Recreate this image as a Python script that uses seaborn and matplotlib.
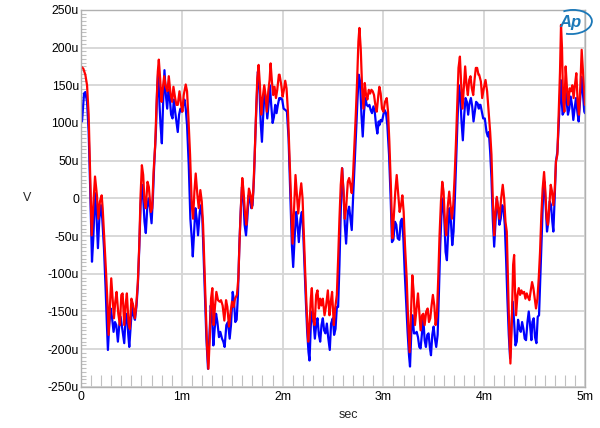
import numpy as np
import pandas as pd
import seaborn as sns
import matplotlib.pyplot as plt
from matplotlib.patches import Arc

# time in ms, level in uV
red_t = [0, .023, .043, .06, .076, .089, .106, .122, .139, .158, .172, .188, .205, .215, .231, .248, .264, .274,
         .287, .300, .314, .327, .34, .353, .37, .386, .40, .413, .429, .442, .455, .472, .485, .50, .518, .535,
         .548, .564, .578, .591, .604, .617, .63, .643, .66, .673, .693, .706, .72, .736, .749, .762, .772, .785,
         .799, .812, .825, .842, .858, .871, .888, .904, .917, .934, .947,
         .96, .977, .993, 1.006, 1.019, 1.039, 1.052, 1.066, 1.082, 1.099, 1.112, 1.125, 1.138, 1.155, 1.168,
         1.184, 1.198, 1.211, 1.224, 1.237, 1.25, 1.264, 1.277, 1.29, 1.303, 1.316, 1.33, 1.343, 1.359, 1.376,
         1.389, 1.405, 1.422, 1.439, 1.452, 1.468, 1.485, 1.498, 1.514, 1.528, 1.547, 1.561, 1.574, 1.587, 1.6,
         1.613, 1.627, 1.64, 1.653, 1.666, 1.683, 1.696, 1.709, 1.722, 1.736, 1.749, 1.762, 1.775, 1.788, 1.802,
         1.818, 1.831, 1.844, 1.858, 1.871, 1.881, 1.894, 1.907, 1.92, 1.934, 1.947, 1.963,
         1.97, 1.987, 2.0, 2.013, 2.026, 2.039, 2.053, 2.069, 2.086, 2.099, 2.112, 2.128, 2.142, 2.155, 2.171,
         2.185, 2.198, 2.211, 2.224, 2.237, 2.254, 2.267, 2.28, 2.29, 2.303, 2.317, 2.333, 2.346, 2.36, 2.373,
         2.386, 2.399, 2.416, 2.432, 2.449, 2.465, 2.478, 2.491, 2.508, 2.521, 2.538, 2.551, 2.564, 2.577, 2.59,
         2.604, 2.617, 2.63, 2.647, 2.66, 2.673, 2.686, 2.699, 2.713, 2.726, 2.739, 2.752, 2.762, 2.775, 2.789,
         2.802, 2.815, 2.828, 2.841, 2.855, 2.868, 2.881, 2.894, 2.907, 2.92, 2.934, 2.95,
         2.96, 2.973, 2.986, 3.0, 3.016, 3.033, 3.046, 3.059, 3.076, 3.089, 3.102, 3.118, 3.132, 3.145, 3.161,
         3.175, 3.188, 3.201, 3.214, 3.231, 3.247, 3.26, 3.274, 3.287, 3.3, 3.313, 3.326, 3.343, 3.356, 3.369,
         3.383, 3.396, 3.409, 3.425, 3.439, 3.452, 3.465, 3.478, 3.491, 3.505, 3.518, 3.531, 3.544, 3.557, 3.571,
         3.584, 3.597, 3.61, 3.623, 3.637, 3.653, 3.666, 3.679, 3.693, 3.706, 3.719, 3.732, 3.745, 3.759, 3.772,
         3.785, 3.798, 3.811, 3.825, 3.838, 3.851, 3.864, 3.877, 3.891, 3.904, 3.917, 3.93, 3.943,
         3.95, 3.967, 3.98, 3.996, 4.013, 4.029, 4.046, 4.059, 4.072, 4.085, 4.099, 4.112, 4.125, 4.138, 4.151,
         4.168, 4.184, 4.198, 4.211, 4.224, 4.234, 4.247, 4.26, 4.273, 4.287, 4.297, 4.306, 4.316, 4.33, 4.343,
         4.356, 4.369, 4.382, 4.396, 4.409, 4.422, 4.435, 4.448, 4.462, 4.475, 4.488, 4.501, 4.514, 4.528, 4.541,
         4.554, 4.567, 4.58, 4.594, 4.607, 4.62, 4.633, 4.646, 4.66, 4.673, 4.686, 4.699, 4.712, 4.726, 4.739,
         4.752, 4.762, 4.772, 4.782, 4.795, 4.808, 4.821, 4.834, 4.848, 4.861, 4.874, 4.887, 4.9, 4.914, 4.927,
         4.94, 4.953, 4.967, 4.98, 4.993, 5.0]
red_v = [175, 172, 164, 150, 111, 44, -49, -9, 29, 4, -27, -4, 4, -13, -53, -97, -142, -181,
         -142, -106, -133, -159, -137, -124, -153, -168, -128, -126, -168, -142, -126, -166, -173, -133, -142, -159,
         -142, -111, -62, 4, 44, 31, -4, -13, 22, 15, -18, -13, 35, 71, 124, 168, 184, 159,
         128, 146, 162, 148, 142, 162, 139, 128, 148, 133, 124,
         124, 142, 124, 115, 137, 151, 142, 106, 58, -9, -27, 9, 33, 4, -13,
         11, -4, -35, -88, -142, -195, -226, -186, -133, -119, -168, -142, -124, -135, -137,
         -135, -142, -162, -135, -144, -170, -150, -137, -144, -133, -128, -106, -53, -9, 27,
         9, -20, -35, -9, 13, 4, -13, 9, 53, 111, 159, 177, 150, 111, 133,
         150, 137, 115, 142, 157, 179, 155, 137, 148, 133, 144, 164,
         164, 150, 135, 144, 156, 146, 115, 53, -9, -60, -18, 31, 4, -20, 4,
         20, 0, -49, -97, -142, -190, -168, -133, -119, -159, -168, -128, -122, -146, -133,
         -142, -133, -155, -142, -122, -155, -137, -124, -168, -146, -128, -80, -27, 18, 40,
         9, -27, -13, 22, 27, 18, 7, 31, 71, 111, 155, 208, 226, 199, 146,
         119, 153, 137, 131, 144, 139, 144, 142, 137, 124, 115, 137,
         148, 139, 119, 115, 128, 133, 115, 75, 9, -53, -27, 9, 31, 9, -18,
         -9, 4, -18, -62, -106, -168, -204, -150, -102, -124, -168, -150, -126, -150, -175,
         -155, -153, -168, -150, -146, -164, -159, -142, -128, -142, -168, -155, -106, -49, -4,
         22, 9, -31, -49, -13, 9, -9, -27, -9, 27, 71, 124, 173, 188, 150,
         119, 146, 175, 150, 137, 157, 162, 146, 137, 157, 173, 173, 164,
         164, 155, 133, 146, 157, 142, 111, 88, 58, 0, -49, -18, 2, -13, -27,
         0, 18, 0, -31, -44, -97, -168, -219, -168, -88, -75, -124, -155, -128, -119,
         -128, -122, -126, -124, -133, -126, -131, -135, -122, -111, -119, -133, -146, -133, -106,
         -71, -22, 13, 35, 9, -27, -35, -9, 18, 9, -9, 9, 49, 58, 111,
         168, 230, 199, 133, 115, 175, 146, 124, 146, 142, 150, 133, 150, 166, 128,
         111, 146, 197, 168, 137, 124]

blue_t = [0, .01, .03, .043, .06, .076, .092, .109, .122, .139, .152, .168, .182, .198, .211, .228, .244, .257,
          .267, .28, .294, .307, .323, .337, .35, .366, .38, .393, .413, .429, .442, .455, .469, .479, .495, .508,
          .521, .535, .551, .564, .578, .591, .604, .617, .63, .643, .657, .67, .683, .7, .713, .726, .743, .756,
          .766, .779, .789, .802, .815, .828, .842, .855, .868, .881, .894, .908, .921, .934, .947,
          .96, .973, .986, 1.0, 1.013, 1.026, 1.039, 1.052, 1.069, 1.085, 1.099, 1.109, 1.122, 1.135, 1.148,
          1.161, 1.178, 1.191, 1.204, 1.217, 1.231, 1.244, 1.26, 1.273, 1.287, 1.3, 1.313, 1.326, 1.34, 1.353,
          1.369, 1.382, 1.399, 1.412, 1.425, 1.442, 1.458, 1.475, 1.488, 1.505, 1.518, 1.531, 1.544, 1.557, 1.571,
          1.584, 1.597, 1.61, 1.623, 1.637, 1.65, 1.663, 1.676, 1.689, 1.702, 1.716, 1.729, 1.742, 1.755, 1.769,
          1.782, 1.795, 1.808, 1.821, 1.835, 1.848, 1.861, 1.874, 1.887, 1.901, 1.914, 1.927, 1.94, 1.953, 1.967,
          1.97, 1.983, 1.996, 2.01, 2.03, 2.043, 2.059, 2.076, 2.092, 2.105, 2.119, 2.135, 2.148, 2.161, 2.178,
          2.191, 2.204, 2.218, 2.231, 2.244, 2.257, 2.267, 2.28, 2.293, 2.307, 2.32, 2.333, 2.346, 2.36, 2.373,
          2.386, 2.399, 2.412, 2.425, 2.439, 2.452, 2.468, 2.481, 2.498, 2.511, 2.525, 2.538, 2.551, 2.564, 2.577,
          2.59, 2.604, 2.617, 2.63, 2.647, 2.66, 2.673, 2.686, 2.699, 2.716, 2.729, 2.742, 2.755, 2.769, 2.782,
          2.795, 2.808, 2.821, 2.835, 2.848, 2.861, 2.874, 2.887, 2.901, 2.914, 2.927, 2.94, 2.953,
          2.96, 2.973, 2.986, 3.0, 3.013, 3.026, 3.039, 3.056, 3.072, 3.085, 3.099, 3.115, 3.128, 3.142, 3.158,
          3.171, 3.184, 3.198, 3.211, 3.227, 3.24, 3.254, 3.264, 3.277, 3.29, 3.303, 3.317, 3.33, 3.343, 3.356,
          3.369, 3.383, 3.396, 3.409, 3.422, 3.435, 3.448, 3.462, 3.472, 3.485, 3.498, 3.511, 3.524, 3.538, 3.551,
          3.564, 3.577, 3.59, 3.604, 3.617, 3.63, 3.643, 3.656, 3.67, 3.683, 3.696, 3.709, 3.722, 3.736, 3.749,
          3.762, 3.775, 3.788, 3.802, 3.815, 3.828, 3.841, 3.854, 3.868, 3.881, 3.894, 3.907, 3.92, 3.934, 3.947,
          3.95, 3.963, 3.976, 3.99, 4.006, 4.023, 4.036, 4.046, 4.059, 4.072, 4.085, 4.099, 4.112, 4.125, 4.138,
          4.151, 4.164, 4.178, 4.191, 4.204, 4.217, 4.23, 4.244, 4.257, 4.27, 4.283, 4.297, 4.31, 4.323, 4.336,
          4.349, 4.363, 4.376, 4.389, 4.402, 4.415, 4.429, 4.442, 4.455, 4.468, 4.478, 4.491, 4.504, 4.518, 4.531,
          4.544, 4.557, 4.57, 4.584, 4.597, 4.61, 4.623, 4.636, 4.65, 4.663, 4.676, 4.686, 4.699, 4.712, 4.726,
          4.739, 4.749, 4.759, 4.768, 4.778, 4.792, 4.805, 4.818, 4.831, 4.844, 4.858, 4.871, 4.884, 4.897, 4.91,
          4.924, 4.937, 4.95, 4.967, 4.98, 4.993, 5.0]
blue_v = [106, 102, 139, 141, 128, 88, 9, -84, -53, 7, -18, -66, -27, -9, -27, -66, -119, -168,
          -201, -168, -146, -157, -177, -164, -168, -190, -168, -157, -177, -192, -159, -153, -181, -197, -164, -139,
          -155, -161, -142, -115, -66, -9, 18, 0, -31, -46, -13, 0, -11, -33, 0, 44, 88, 146,
          168, 124, 97, 73, 128, 170, 137, 119, 144, 133, 111, 106, 131, 115, 102,
          88, 111, 119, 115, 124, 131, 119, 97, 44, -27, -53, -77, -44, -13, -27,
          -49, -18, -9, -27, -80, -133, -186, -226, -186, -142, -159, -195, -173, -153, -164,
          -184, -177, -186, -190, -197, -168, -164, -186, -168, -124, -137, -164, -161, -128, -62,
          -18, 15, 2, -35, -49, -27, 4, 0, -13, -9, 27, 80, 128, 168, 150,
          102, 75, 111, 142, 128, 106, 124, 150, 124, 100, 108, 124, 113, 124, 133,
          131, 133, 131, 119, 117, 115, 80, 9, -62, -91, -53, -18, -35, -58, -27,
          -18, -44, -93, -137, -177, -204, -215, -168, -150, -164, -186, -168, -159, -181, -190,
          -168, -159, -175, -179, -166, -184, -201, -166, -159, -181, -173, -144, -144, -88, -18,
          40, 9, -35, -60, -18, -11, -27, -42, 0, 49, 88, 128, 164, 155, 111,
          82, 115, 133, 124, 122, 124, 117, 113, 122, 115, 97, 86, 102,
          97, 104, 102, 111, 117, 113, 97, 58, 0, -58, -55, -31, -35, -53, -55,
          -31, -27, -53, -97, -142, -177, -208, -223, -177, -155, -179, -179, -177, -184, -197,
          -199, -179, -159, -188, -197, -181, -179, -199, -208, -181, -170, -186, -197, -181, -124,
          -62, -18, 0, -27, -71, -82, -44, -13, -31, -62, -44, 0, 53, 106, 150,
          137, 102, 77, 111, 133, 128, 111, 126, 133, 122, 102, 115, 128, 126, 119,
          124, 124, 115, 106, 106, 88, 82, 88, 62, 27, -27, -64, -31, 0, -15,
          -35, -27, -9, -13, -35, -80, -133, -181, -212, -168, -137, -164, -195, -190, -161,
          -173, -177, -164, -173, -186, -188, -164, -150, -168, -188, -164, -159, -184, -192, -157,
          -155, -106, -53, 4, 22, -9, -44, -31, -4, -9, -31, -44, 0, 49, 62,
          97, 128, 157, 133, 111, 115, 146, 128, 111, 119, 135, 124, 104, 119, 133,
          115, 102, 128, 161, 137, 115, 113]

x_ticks = [0, 1, 2, 3, 4, 5]
x_labels = ['0', '1m', '2m', '3m', '4m', '5m']
y_ticks = [-250, -200, -150, -100, -50, 0, 50, 100, 150, 200, 250]
y_labels = ['-250u', '-200u', '-150u', '-100u', '-50u', '0', '50u', '100u', '150u', '200u', '250u']

df = pd.concat([
    pd.DataFrame({'t': blue_t, 'v': blue_v, 'ch': 'blue'}),
    pd.DataFrame({'t': red_t, 'v': red_v, 'ch': 'red'}),
], ignore_index=True)

sns.set_theme(style='white')
plt.rcParams['font.family'] = ['Liberation Sans', 'DejaVu Sans']

fig = plt.figure(figsize=(6, 4.28), dpi=100)
ax = fig.add_axes([0.135, 0.096, 0.84, 0.881])

sns.lineplot(data=df, x='t', y='v', hue='ch', hue_order=['blue', 'red'],
             palette={'blue': '#0000ff', 'red': '#ff0000'},
             sort=False, estimator=None, lw=1.6, legend=False, ax=ax)

ax.set_xlim(0, 5)
ax.set_ylim(-250, 250)
ax.set_xticks(x_ticks)
ax.set_xticklabels(x_labels)
ax.set_yticks(y_ticks)
ax.set_yticklabels(y_labels)
ax.set_xticks(np.arange(0, 5.01, 0.1), minor=True)
ax.set_yticks(np.arange(-250, 251, 5), minor=True)

ax.grid(True, which='major', color='#d6d6d6', lw=1.3)
ax.tick_params(which='major', length=0, labelsize=8.8, colors='black')
ax.tick_params(axis='x', which='major', pad=3)
ax.tick_params(axis='y', which='major', pad=1.5)
ax.tick_params(axis='x', which='minor', direction='in', length=9, width=0.8, color='#c0c0c0', bottom=True)
ax.tick_params(axis='y', which='minor', direction='in', length=3.5, width=0.8, color='#c0c0c0', left=True)
for s in ax.spines.values():
    s.set_color('#b0b0b0')
    s.set_linewidth(1.0)

ax.set_xlabel('')
ax.set_ylabel('')
fig.text(27 / 600, 1 - 198 / 428, 'V', ha='center', va='center', fontsize=9)
fig.text(348 / 600, 1 - 415 / 428, 'sec', ha='center', va='center', fontsize=9)

# AP logo, top right
fig.text(570 / 600, 1 - 22 / 428, 'Ap', ha='center', va='center', fontsize=12,
         style='italic', weight='bold', color='#1b78b8')
fig.add_artist(Arc((572 / 600, 1 - 22 / 428), 40 / 600, 24 / 428, angle=10,
                   theta1=-120, theta2=110, color='#1b78b8', lw=1.3,
                   transform=fig.transFigure))

fig.savefig('out.png', dpi=100)
